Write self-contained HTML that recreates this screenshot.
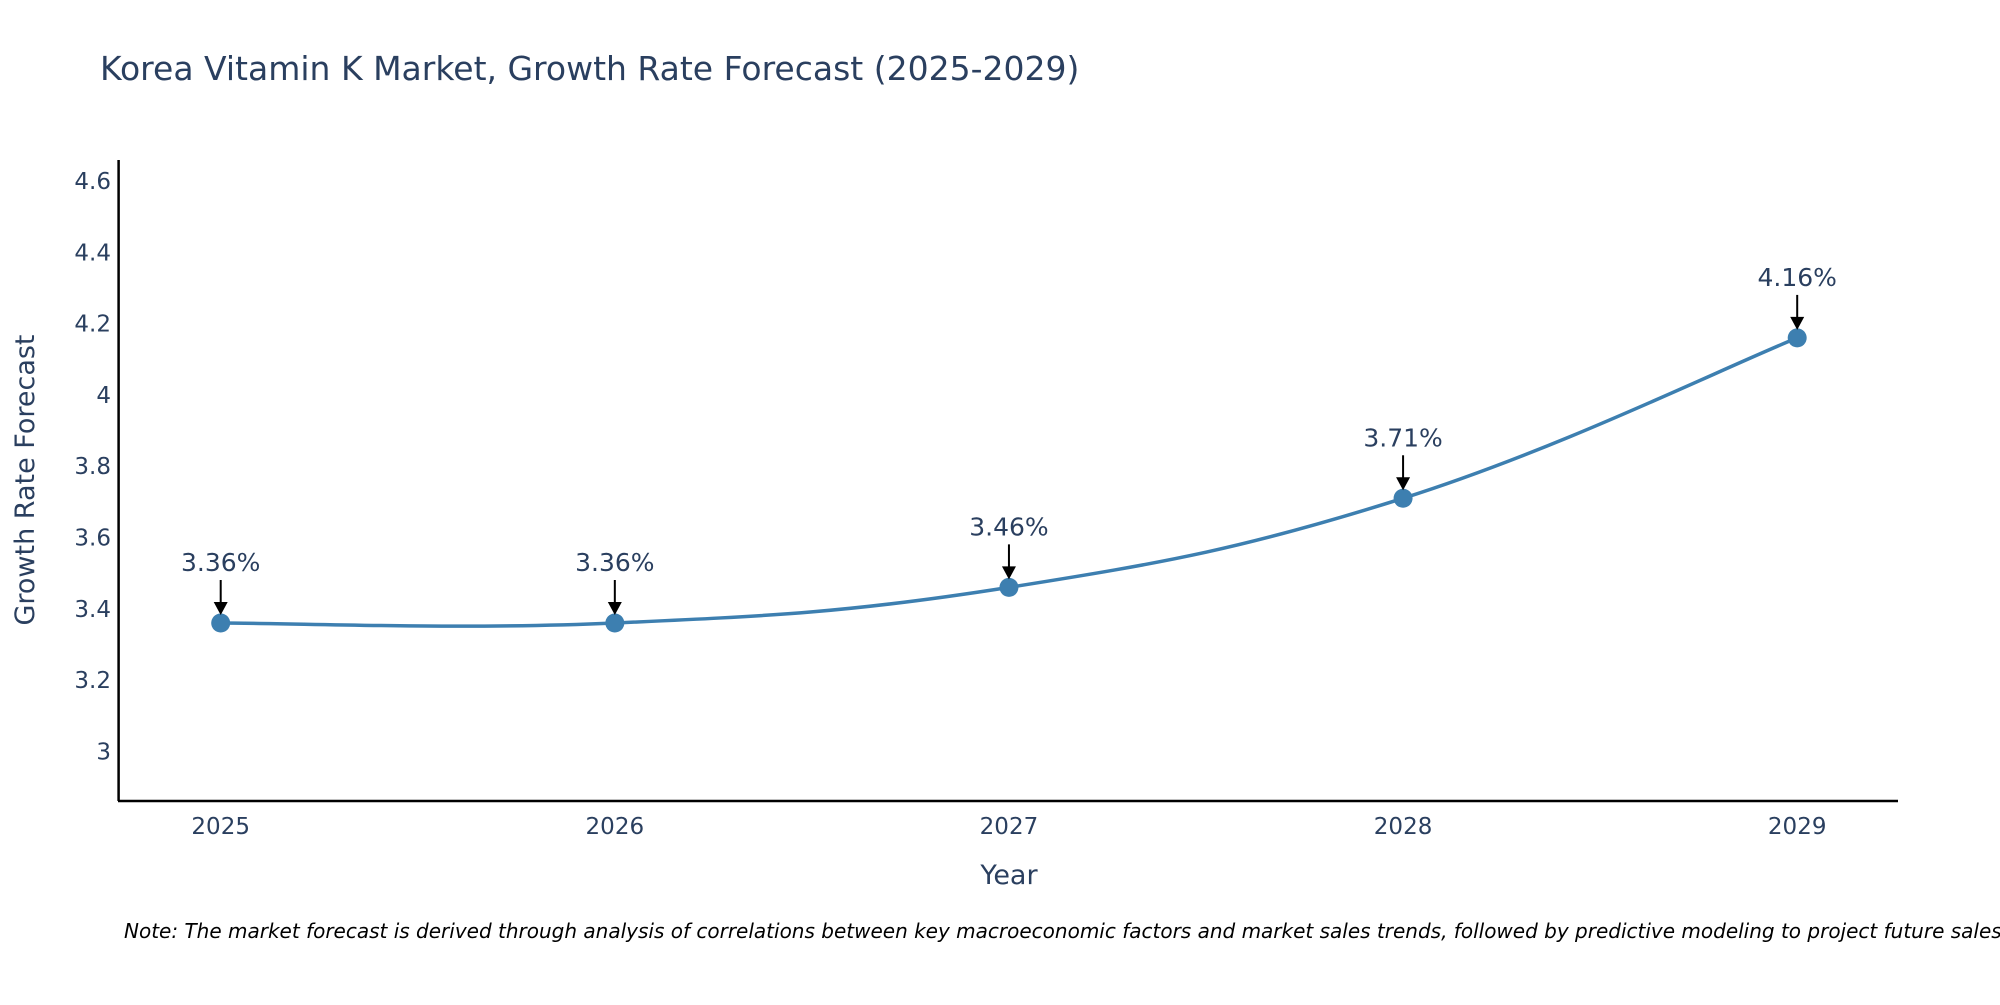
<!DOCTYPE html>
<html><head><meta charset="utf-8"><style>
body{margin:0;background:#fff;overflow:hidden;}
svg text{font-family:"DejaVu Sans","Liberation Sans",sans-serif;}
</style></head><body>
<svg id="chart" width="2000" height="1000" viewBox="0 0 2000 1000" xmlns="http://www.w3.org/2000/svg">
<text x="100" y="80" font-size="33" fill="#2a3f5f">Korea Vitamin K Market, Growth Rate Forecast (2025-2029)</text>
<g id="yticks"></g>
<g id="xticks"></g>
<line x1="118.6" y1="160" x2="118.6" y2="801" stroke="#000" stroke-width="2.5"/>
<line x1="118" y1="801" x2="1898" y2="801" stroke="#000" stroke-width="2.5"/>
<text transform="translate(34,480) rotate(-90)" text-anchor="middle" font-size="27" fill="#2a3f5f">Growth Rate Forecast</text>
<text x="1009" y="884" text-anchor="middle" font-size="27" fill="#2a3f5f">Year</text>
<g id="series"></g>
<g id="annots"></g>
<text x="124" y="938" font-size="20" font-style="italic" fill="#000">Note: The market forecast is derived through analysis of correlations between key macroeconomic factors and market sales trends, followed by predictive modeling to project future sales.</text>
</svg>
<script>
const years = [2025, 2026, 2027, 2028, 2029];
const growth = [3.36, 3.36, 3.46, 3.71, 4.16];
const yTickValues = [3, 3.2, 3.4, 3.6, 3.8, 4, 4.2, 4.4, 4.6];
const yTickLabels = ["3", "3.2", "3.4", "3.6", "3.8", "4", "4.2", "4.4", "4.6"];

const NS = "http://www.w3.org/2000/svg";
function xs(v){ return 220.7 + (v - 2025) * (1797.2 - 220.7) / 4; }
function ys(v){ return 751.3 - (v - 3) * (751.3 - 181.1) / 1.6; }
function mk(tag, attrs, parent){ const e = document.createElementNS(NS, tag); for (const k in attrs) e.setAttribute(k, attrs[k]); parent.appendChild(e); return e; }

const yt = document.getElementById('yticks');
yTickValues.forEach((v, i) => {
  const t = mk('text', {x: 111, y: ys(v) + 8, 'text-anchor': 'end', 'font-size': 23, fill: '#2a3f5f'}, yt);
  
  
  t.textContent = yTickLabels[i];
});
const xt = document.getElementById('xticks');
years.forEach(v => {
  const t = mk('text', {x: xs(v), y: 834, 'text-anchor': 'middle', 'font-size': 23, fill: '#2a3f5f'}, xt);
  
  
  t.textContent = String(v);
});

const pts = years.map((y, i) => [xs(y), ys(growth[i])]);
let d = 'M' + pts[0][0] + ',' + pts[0][1];
const s = 0.2;
for (let i = 0; i < pts.length - 1; i++) {
  const p0 = pts[Math.max(0, i - 1)], p1 = pts[i], p2 = pts[i + 1], p3 = pts[Math.min(pts.length - 1, i + 2)];
  const c1 = [p1[0] + (p2[0] - p0[0]) * s, p1[1] + (p2[1] - p0[1]) * s];
  const c2 = [p2[0] - (p3[0] - p1[0]) * s, p2[1] - (p3[1] - p1[1]) * s];
  d += ' C' + c1.join(',') + ' ' + c2.join(',') + ' ' + p2.join(',');
}
const sg = document.getElementById('series');
const line = mk('path', {d: d, fill: 'none', stroke: '#3d7fb0', 'stroke-width': 3.5}, sg);


const ag = document.getElementById('annots');
pts.forEach((p, i) => {
  const c = mk('circle', {cx: p[0], cy: p[1], r: 9.5, fill: '#3d7fb0'}, sg);
  
  
  const l = mk('line', {x1: p[0], y1: p[1] - 43, x2: p[0], y2: p[1] - 20, stroke: '#000', 'stroke-width': 2}, ag);
  
  
  const a = mk('polygon', {points: (p[0]-7)+','+(p[1]-21)+' '+(p[0]+7)+','+(p[1]-21)+' '+p[0]+','+(p[1]-8), fill: '#000'}, ag);
  
  
  const t = mk('text', {x: p[0], y: p[1] - 52, 'text-anchor': 'middle', 'font-size': 25, fill: '#2a3f5f'}, ag);
  
  
  t.textContent = growth[i].toFixed(2) + '%';
});
</script>
</body></html>
